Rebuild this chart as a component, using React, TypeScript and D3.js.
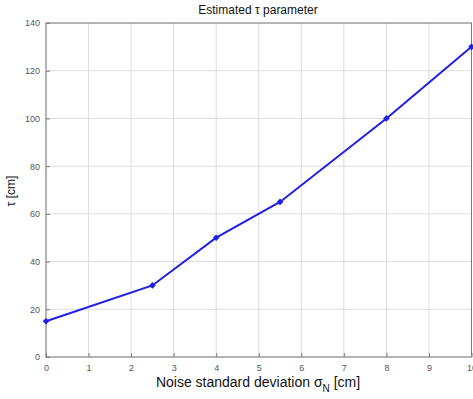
import React, { useEffect, useRef } from 'react';
import * as d3 from 'd3';

const sigmaN = [0, 2.5, 4, 5.5, 8, 10];
const tauCm = [15, 30, 50, 65, 100, 130];
const xTicks = [0, 1, 2, 3, 4, 5, 6, 7, 8, 9, 10];
const yTicks = [0, 20, 40, 60, 80, 100, 120, 140];

const width = 473;
const height = 399;
const margin = { top: 23, right: 2, bottom: 42, left: 46 };

const App = () => {
  const ref = useRef<SVGSVGElement>(null);

  useEffect(() => {
    const svg = d3.select(ref.current);
    svg.selectAll('*').remove();

    const x = d3.scaleLinear().domain([0, 10]).range([margin.left, width - margin.right + 0.5]);
    const y = d3.scaleLinear().domain([0, 140]).range([height - margin.bottom, margin.top]);

    svg.append('rect')
      .attr('width', width)
      .attr('height', height)
      .attr('fill', 'white');

    // grid
    svg.append('g')
      .selectAll('line')
      .data(xTicks)
      .enter()
      .append('line')
        .attr('x1', d => x(d))
        .attr('x2', d => x(d))
        .attr('y1', y(0))
        .attr('y2', y(140))
        .attr('stroke', '#dcdcdc')
        .attr('stroke-width', 1);

    svg.append('g')
      .selectAll('line')
      .data(yTicks)
      .enter()
      .append('line')
        .attr('x1', x(0))
        .attr('x2', x(10))
        .attr('y1', d => y(d))
        .attr('y2', d => y(d))
        .attr('stroke', '#dcdcdc')
        .attr('stroke-width', 1);

    // frame
    svg.append('rect')
      .attr('x', x(0))
      .attr('y', y(140))
      .attr('width', x(10) - x(0))
      .attr('height', y(0) - y(140))
      .attr('fill', 'none')
      .attr('stroke', '#7a7a7a')
      .attr('stroke-width', 1);

    const xAxis = svg.append('g')
      .attr('transform', `translate(0, ${y(0)})`)
      .call(d3.axisBottom(x).tickValues(xTicks).tickSize(-4).tickPadding(8).tickFormat(d3.format('d')));
    xAxis.select('.domain').remove();

    const yAxis = svg.append('g')
      .attr('transform', `translate(${x(0)}, 0)`)
      .call(d3.axisLeft(y).tickValues(yTicks).tickSize(-4).tickPadding(6).tickFormat(d3.format('d')));
    yAxis.select('.domain').remove();

    svg.selectAll('.tick line').attr('stroke', '#7a7a7a');
    svg.selectAll('.tick text')
      .attr('fill', '#555')
      .style('font-family', 'Arial, "Liberation Sans", sans-serif')
      .style('font-size', '9px');

    const pts = sigmaN.map((s, i) => [s, tauCm[i]] as [number, number]);

    const line = d3.line<[number, number]>()
      .x(d => x(d[0]))
      .y(d => y(d[1]));

    svg.append('path')
      .datum(pts)
      .attr('d', line)
      .attr('fill', 'none')
      .attr('stroke', '#1f1fe6')
      .attr('stroke-width', 2);

    // diamond markers (square rotated by 45 degrees)
    svg.append('g')
      .selectAll('path')
      .data(pts)
      .enter()
      .append('path')
        .attr('d', d3.symbol(d3.symbolSquare, 22))
        .attr('transform', d => `translate(${x(d[0])}, ${y(d[1])}) rotate(45)`)
        .attr('fill', '#1f1fe6');

    const font = 'Arial, "Liberation Sans", sans-serif';

    svg.append('text')
      .attr('x', 258)
      .attr('y', 14)
      .attr('text-anchor', 'middle')
      .style('font-family', font)
      .style('font-size', '12px')
      .attr('fill', '#111')
      .text('Estimated τ parameter');

    const xl = svg.append('text')
      .attr('x', 258)
      .attr('y', 387)
      .attr('text-anchor', 'middle')
      .style('font-family', font)
      .style('font-size', '14px')
      .attr('fill', '#111');
    xl.append('tspan').text('Noise standard deviation σ');
    xl.append('tspan').attr('dy', 5).style('font-size', '10px').text('N');
    xl.append('tspan').attr('dy', -5).text(' [cm]');

    svg.append('text')
      .attr('transform', `translate(15, ${191}) rotate(-90)`)
      .attr('text-anchor', 'middle')
      .style('font-family', font)
      .style('font-size', '12px')
      .attr('fill', '#111')
      .text('τ [cm]');
  }, []);

  return (
    <svg
      ref={ref}
      width={width}
      height={height}
      style={{ position: 'absolute', left: 0, top: 0, display: 'block' }}
    />
  );
};

export default App;
